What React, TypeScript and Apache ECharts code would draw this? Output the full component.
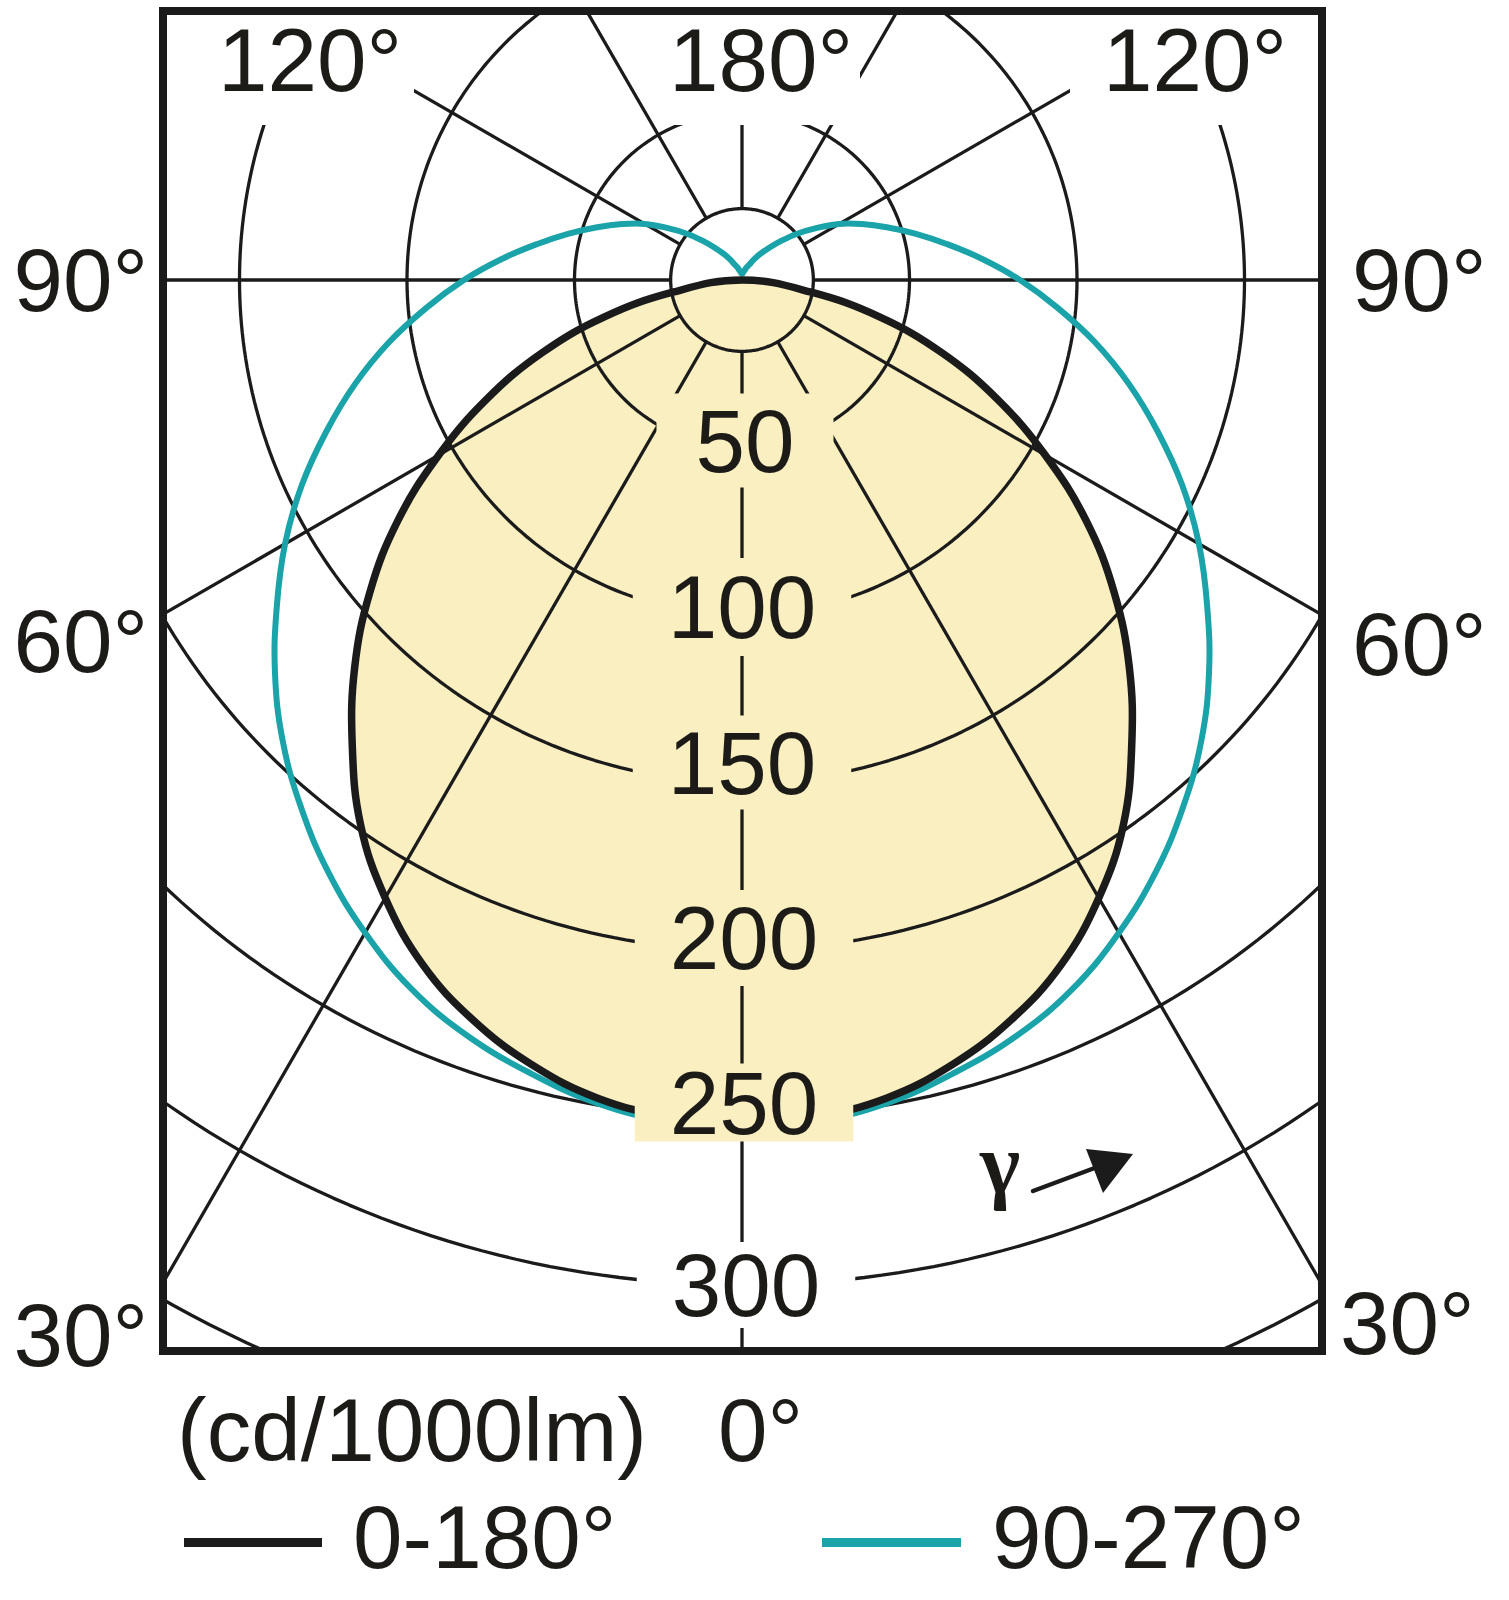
import React, { useEffect, useRef } from "react";
import * as echarts from "echarts";

// ---------- DATA ----------
// gamma angle (degrees, 0 = straight down)
const GAMMA_DEG = [0, 5, 10, 15, 20, 25, 30, 35, 40, 45, 50, 55, 60, 65, 70, 75, 80, 85, 90,
  95, 100, 105, 110, 115, 120, 125, 130, 135, 140, 145, 150, 155, 160, 165, 170, 175, 180];
// luminous intensity cd/1000lm, plane C0-C180
const INTENSITY_C0_180 = [250, 250.5, 248, 242.5, 235, 225.5, 213, 198.5, 181, 163.5, 145, 125.5, 104.5, 84, 63.5, 42.5, 21, 0, 0,
  0, 0, 0, 0, 0, 0, 0, 0, 0, 0, 0, 0, 0, 0, 0, 0, 0, 0];
// luminous intensity cd/1000lm, plane C90-C270
const INTENSITY_C90_270 = [252, 252, 249.5, 245, 240, 233.5, 225, 215.5, 205, 194, 182, 169.5, 157.5, 145, 132, 119.5, 107, 94.5, 83,
  72, 62, 53.5, 46, 39.5, 33.5, 27, 21.5, 16.5, 12.5, 9.5, 7, 5, 4, 3, 2.5, 2, 2];

const RING_VALUES = [50, 100, 150, 200, 250, 300, 350];
const RING_LABELS = ["50", "100", "150", "200", "250", "300"];
const RAY_ANGLES = [0, 30, 60, 90, 120, 150, 180];
const HUB_RADIUS = 21.3;
const SIDE_ANGLE_LABELS = ["90°", "60°", "30°"];
const TOP_ANGLE_LABELS = ["120°", "180°", "120°"];
const UNIT_LABEL = "(cd/1000lm)";
const BOTTOM_ANGLE_LABEL = "0°";
const LEGEND_LABELS = ["0-180°", "90-270°"];

// ---------- LAYOUT / STYLE ----------
const W = 1509;
const H = 1600;
const CX = 742;
const CY = 280;
const PX_PER_UNIT = 3.35;
const FRAME = { left: 163, top: 11, right: 1322, bottom: 1351 };
const X_MIN = (FRAME.left - CX) / PX_PER_UNIT;
const X_MAX = (FRAME.right - CX) / PX_PER_UNIT;
const Y_MAX = (CY - FRAME.top) / PX_PER_UNIT;
const Y_MIN = (CY - FRAME.bottom) / PX_PER_UNIT;

const FILL = "#F9EFC0";
const TEAL = "#1AA3A9";
const INK = "#1b1b1b";
const TEXT = "#1d1b17";
const FONT = "Liberation Sans";
const FS = 89;

const RING_LABEL_OFFSETS = [[3, -7], [0, -8], [0, -20], [2, -12], [2, -15], [4, 0]];
const RING_LABEL_PAD = [[2, 39], [4, 35], [2, 35], [3, 35], [-6, 35], [-2, 35]];

// ---------- helpers ----------
const rad = (d: number) => (d * Math.PI) / 180;
const toXY = (g: number, r: number, side: number): number[] => [
  side * r * Math.sin(rad(g)),
  -r * Math.cos(rad(g)),
];

function curvePoints(vals: number[]): number[][] {
  const pts: number[][] = [];
  for (let i = GAMMA_DEG.length - 1; i >= 0; i--) pts.push(toXY(GAMMA_DEG[i], vals[i], -1));
  for (let i = 1; i < GAMMA_DEG.length; i++) pts.push(toXY(GAMMA_DEG[i], vals[i], 1));
  const out: number[][] = [];
  for (const p of pts) {
    const l = out[out.length - 1];
    if (!l || Math.hypot(p[0] - l[0], p[1] - l[1]) > 1e-6) out.push(p);
  }
  if (out.length > 1) {
    const f = out[0];
    const l = out[out.length - 1];
    if (Math.hypot(f[0] - l[0], f[1] - l[1]) < 1e-6) out.pop();
  }
  return out;
}

function circlePts(r: number): number[][] {
  const pts: number[][] = [];
  for (let a = 0; a <= 360; a += 1) pts.push([r * Math.sin(rad(a)), -r * Math.cos(rad(a))]);
  return pts;
}

function buildOption() {
  const blackPts = curvePoints(INTENSITY_C0_180);
  const tealPts = curvePoints(INTENSITY_C90_270);
  const SMOOTH = 0.4;

  const gridLine = { color: INK, width: 3.3 };
  const series: any[] = [];

  series.push({
    type: "custom",
    z: 1,
    silent: true,
    data: [[0, 0]],
    renderItem: (_p: any, api: any) => ({
      type: "polygon",
      shape: { points: blackPts.map((p) => api.coord(p)), smooth: SMOOTH },
      style: { fill: FILL, stroke: null, lineWidth: 0 },
    }),
  });

  [HUB_RADIUS, ...RING_VALUES].forEach((v) => {
    series.push({
      type: "line",
      z: 2,
      silent: true,
      clip: true,
      symbol: "none",
      showSymbol: false,
      data: circlePts(v),
      lineStyle: gridLine,
      emphasis: { disabled: true },
    });
  });

  RAY_ANGLES.forEach((a) => {
    const sides = a === 0 || a === 180 ? [1] : [-1, 1];
    sides.forEach((s) => {
      series.push({
        type: "line",
        z: 2,
        silent: true,
        clip: true,
        symbol: "none",
        showSymbol: false,
        data: [toXY(a, HUB_RADIUS, s), toXY(a, 600, s)],
        lineStyle: gridLine,
        emphasis: { disabled: true },
      });
    });
  });

  series.push({
    type: "custom",
    z: 3,
    silent: true,
    data: [[0, 0]],
    renderItem: (_p: any, api: any) => ({
      type: "polygon",
      shape: { points: tealPts.map((p) => api.coord(p)), smooth: SMOOTH },
      style: { fill: null, stroke: TEAL, lineWidth: 6 },
    }),
  });

  series.push({
    type: "custom",
    z: 4,
    silent: true,
    data: [[0, 0]],
    renderItem: (_p: any, api: any) => ({
      type: "polygon",
      shape: { points: blackPts.map((p) => api.coord(p)), smooth: SMOOTH },
      style: { fill: null, stroke: INK, lineWidth: 7.5, lineJoin: "round" },
    }),
  });

  series.push({
    type: "scatter",
    z: 10,
    silent: true,
    symbolSize: 1,
    itemStyle: { color: "rgba(0,0,0,0)", opacity: 1 },
    data: RING_LABELS.map((lab, i) => ({
      name: lab,
      value: [0, -Number(lab)],
      label: {
        offset: RING_LABEL_OFFSETS[i],
        backgroundColor: Number(lab) > 250 ? "#ffffff" : FILL,
        padding: [
          Math.max(0, RING_LABEL_PAD[i][0]),
          RING_LABEL_PAD[i][1],
          Math.max(0, RING_LABEL_PAD[i][0]),
          RING_LABEL_PAD[i][1],
        ],
        lineHeight: RING_LABEL_PAD[i][0] < 0 ? 90 + 2 * RING_LABEL_PAD[i][0] : 90,
      },
    })),
    label: {
      show: true,
      position: "inside",
      formatter: "{b}",
      fontSize: FS,
      fontFamily: FONT,
      color: TEXT,
      opacity: 1,
      lineHeight: 90,
      textBorderWidth: 0,
    },
  });

  const txt = (text: string, x: number, y: number, align: string, extra: any = {}) => ({
    type: "text",
    z: 21,
    silent: true,
    style: {
      text,
      x,
      y,
      fill: TEXT,
      fontSize: FS,
      fontFamily: FONT,
      textAlign: align,
      align,
      textVerticalAlign: "middle",
      verticalAlign: "middle",
      ...extra,
    },
  });

  const elements: any[] = [
    // masks behind the top labels
    { type: "rect", z: 20, silent: true, shape: { x: FRAME.left, y: FRAME.top, width: 414 - FRAME.left, height: 125 - FRAME.top }, style: { fill: "#ffffff" } },
    { type: "rect", z: 20, silent: true, shape: { x: 660, y: FRAME.top, width: 200, height: 125 - FRAME.top }, style: { fill: "#ffffff" } },
    { type: "rect", z: 20, silent: true, shape: { x: 1070, y: FRAME.top, width: FRAME.right - 1070, height: 125 - FRAME.top }, style: { fill: "#ffffff" } },
    txt(TOP_ANGLE_LABELS[0], 310, 60, "center"),
    txt(TOP_ANGLE_LABELS[1], 761, 60, "center"),
    txt(TOP_ANGLE_LABELS[2], 1195, 60, "center"),
    // side labels
    txt(SIDE_ANGLE_LABELS[0], 148, 280, "right"),
    txt(SIDE_ANGLE_LABELS[1], 148, 641, "right"),
    txt(SIDE_ANGLE_LABELS[2], 148, 1335, "right"),
    txt(SIDE_ANGLE_LABELS[0], 1352, 280, "left"),
    txt(SIDE_ANGLE_LABELS[1], 1352, 644, "left"),
    txt(SIDE_ANGLE_LABELS[2], 1340, 1323, "left"),
    // bottom
    txt(UNIT_LABEL, 177, 1430, "left"),
    txt(BOTTOM_ANGLE_LABEL, 718, 1430, "left"),
    // legend
    { type: "rect", z: 21, silent: true, shape: { x: 184, y: 1538, width: 138, height: 9 }, style: { fill: INK } },
    txt(LEGEND_LABELS[0], 353, 1537, "left"),
    { type: "rect", z: 21, silent: true, shape: { x: 822, y: 1538, width: 139, height: 9 }, style: { fill: TEAL } },
    txt(LEGEND_LABELS[1], 992, 1537, "left"),
    // gamma arrow
    txt("\u03B3", 1000, 1163, "center", { fontFamily: "Liberation Serif", fontSize: 86, fontWeight: "bold" }),
    { type: "line", z: 21, silent: true, shape: { x1: 1033, y1: 1191, x2: 1100, y2: 1166 }, style: { stroke: INK, lineWidth: 4.5, lineCap: "round" } },
    { type: "polygon", z: 21, silent: true, shape: { points: [[1133, 1154], [1086, 1149], [1103, 1193]] }, style: { fill: INK } },
    // frame
    { type: "rect", z: 30, silent: true, shape: { x: FRAME.left, y: FRAME.top, width: FRAME.right - FRAME.left, height: FRAME.bottom - FRAME.top }, style: { fill: "none", stroke: INK, lineWidth: 8 } },
  ];

  return {
    animation: false,
    backgroundColor: "#ffffff",
    grid: {
      left: FRAME.left,
      top: FRAME.top,
      width: FRAME.right - FRAME.left,
      height: FRAME.bottom - FRAME.top,
      show: false,
    },
    xAxis: { type: "value", min: X_MIN, max: X_MAX, show: false },
    yAxis: { type: "value", min: Y_MIN, max: Y_MAX, show: false },
    series,
    graphic: { elements },
  };
}

export default function App() {
  const ref = useRef<HTMLDivElement>(null);
  useEffect(() => {
    if (!ref.current) return;
    const chart = echarts.init(ref.current, null, { renderer: "svg" });
    chart.setOption(buildOption() as any);
    return () => chart.dispose();
  }, []);
  return (
    <div
      ref={ref}
      style={{ position: "absolute", left: 0, top: 0, width: W, height: H, background: "#fff" }}
    />
  );
}
